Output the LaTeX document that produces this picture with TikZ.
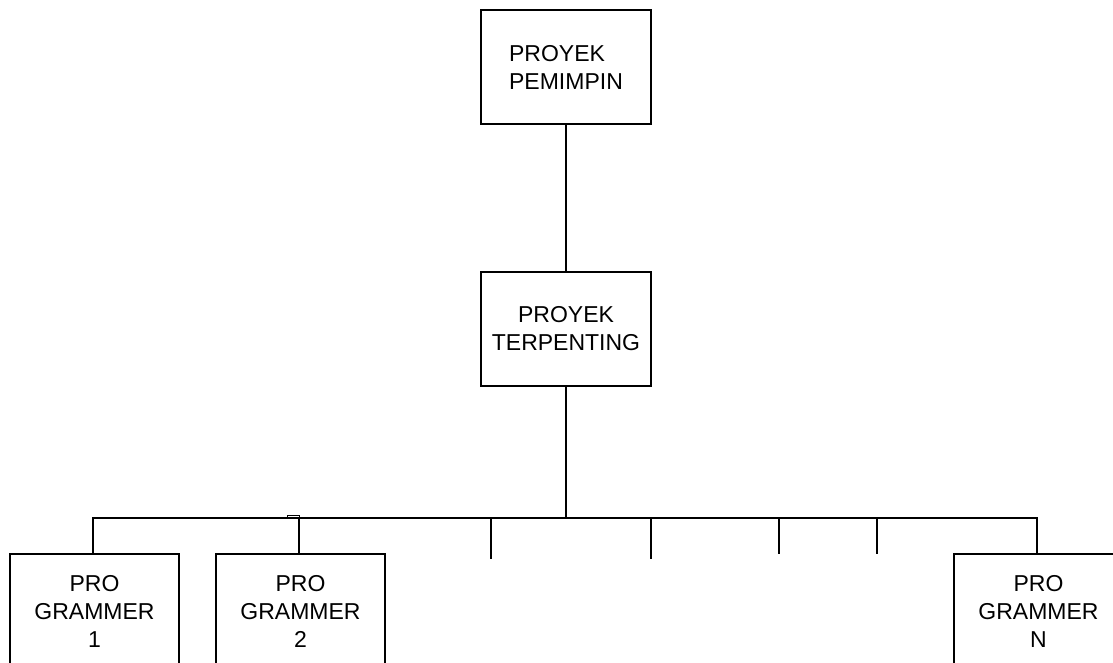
\documentclass[tikz,border=0pt]{standalone}
\usepackage{fontspec}
\setmainfont{Liberation Sans}
\begin{document}
\begin{tikzpicture}[x=1pt,y=-1pt,
  box/.style={draw, line width=1.4pt, rectangle, inner sep=0pt, minimum width=170pt, minimum height=114pt,
    font=\fontsize{23}{28}\selectfont, align=center},
  wire/.style={draw, line width=1.4pt}]
\useasboundingbox (0,0) rectangle (1113,663);
\clip (0,0) rectangle (1113,663);
\node[box, align=left] (lead) at (566,67) {PROYEK\\PEMIMPIN};
\node[box] (main) at (566,329) {PROYEK\\TERPENTING};
\node[box, minimum width=169pt] (p1) at (94.5,611) {PRO\\GRAMMER\\1};
\node[box, minimum width=169pt] (p2) at (300.5,611) {PRO\\GRAMMER\\2};
\node[box, minimum width=169pt] (pn) at (1038.5,611) {PRO\\GRAMMER\\N};
\coordinate (bus) at (566,518);
\coordinate (bl) at (93,518);
\coordinate (b2) at (299,518);
\coordinate (br) at (1037,518);
\coordinate (t1a) at (491,518); \coordinate (t1b) at (491,559);
\coordinate (t2a) at (651,518); \coordinate (t2b) at (651,559);
\coordinate (t3a) at (779,518); \coordinate (t3b) at (779,554);
\coordinate (t4a) at (877,518); \coordinate (t4b) at (877,554);
\draw[wire] (lead.south) -- (main.north);
\draw[wire] (main.south) -- (bus);
\draw[wire] (bl |- p1.north) -- (bl) -- (br) -- (br |- pn.north);
\draw[wire] (b2) -- (b2 |- p2.north);
\draw[wire] (t1a) -- (t1b);
\draw[wire] (t2a) -- (t2b);
\draw[wire] (t3a) -- (t3b);
\draw[wire] (t4a) -- (t4b);
\draw[line width=1pt] (287,515.5) rectangle (299.3,518);
\end{tikzpicture}
\end{document}
